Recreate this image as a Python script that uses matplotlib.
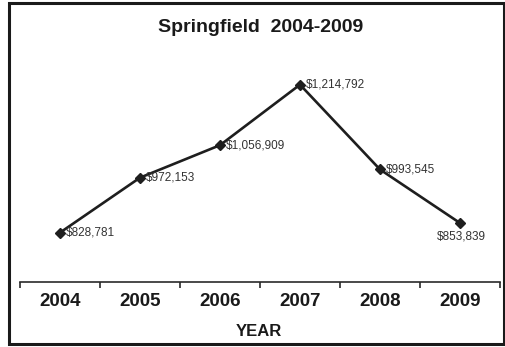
"""Springfield yearly totals, 2004-2009, drawn as a labelled line chart."""

import matplotlib

matplotlib.use("Agg")
import matplotlib.pyplot as plt
from matplotlib.patches import Rectangle

years = ["2004", "2005", "2006", "2007", "2008", "2009"]
values = [828781, 972153, 1056909, 1214792, 993545, 853839]
# 2009's label sits under its point, the rest to the right
label_below = [False, False, False, False, False, True]

plt.rcParams["font.family"] = ["Liberation Sans", "DejaVu Sans"]

W, H = 505, 347
fig = plt.figure(figsize=(W / 100, H / 100), dpi=100)
fig.patch.set_facecolor("white")

# outer frame around the whole chart
fig.add_artist(Rectangle((9 / W, 3 / H), 495 / W, 341 / H, transform=fig.transFigure,
                         fill=False, edgecolor="#1a1a1a", linewidth=2.2))

ax = fig.add_axes([20 / W, 65 / H, 480 / W, 230 / H])
xs = [i + 0.5 for i in range(len(years))]
ax.plot(xs, values, color="#1e1e1e", linewidth=1.9, marker="D", markersize=5,
        markerfacecolor="#1e1e1e", markeredgecolor="#1e1e1e")

for x, v, below in zip(xs, values, label_below):
    text = f"${v:,}"
    if below:
        ax.annotate(text, (x, v), xytext=(1, -10), textcoords="offset points",
                    ha="center", va="center", fontsize=8.5, color="#333333")
    else:
        ax.annotate(text, (x, v), xytext=(4, 0), textcoords="offset points",
                    ha="left", va="center", fontsize=8.5, color="#333333")

ax.set_xlim(0, len(years))
ax.set_ylim(700000, 1300000)
for side in ("top", "right", "left"):
    ax.spines[side].set_visible(False)
ax.spines["bottom"].set_color("#2a2a2a")
ax.spines["bottom"].set_linewidth(1.2)
ax.set_yticks([])

ax.set_xticks(range(len(years) + 1))
ax.set_xticklabels([])
ax.tick_params(axis="x", which="major", direction="out", length=4, width=1.2, color="#2a2a2a")
ax.set_xticks(xs, minor=True)
ax.set_xticklabels(years, minor=True, fontsize=13.5, fontweight="bold", color="#1a1a1a")
ax.tick_params(axis="x", which="minor", length=0, pad=8)

fig.text(261 / W, 1 - 28 / H, "Springfield  2004-2009", ha="center", va="center",
         fontsize=14, fontweight="bold", color="#1a1a1a")
fig.text(259 / W, 1 - 332 / H, "YEAR", ha="center", va="center",
         fontsize=12, fontweight="bold", color="#1a1a1a")

fig.savefig("out.png", dpi=100)
